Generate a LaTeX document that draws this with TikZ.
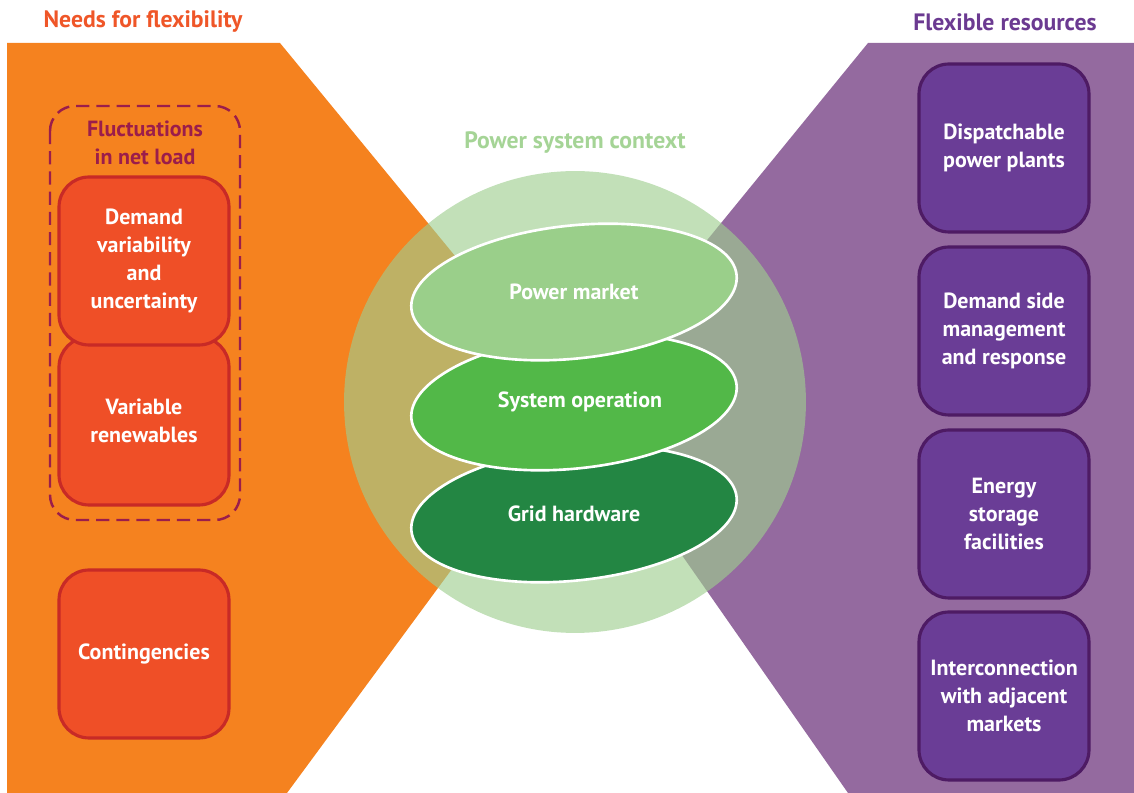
\documentclass[tikz,border=0pt]{standalone}
\usepackage{fontspec}
\setmainfont{PT Sans}
\usetikzlibrary{shapes.geometric}

\definecolor{needbg}{RGB}{245,130,31}
\definecolor{needfill}{RGB}{239,79,39}
\definecolor{neededge}{RGB}{200,42,38}
\definecolor{needtitle}{RGB}{239,86,40}
\definecolor{flucline}{RGB}{155,29,75}
\definecolor{resbg}{RGB}{148,106,159}
\definecolor{resfill}{RGB}{106,61,150}
\definecolor{resedge}{RGB}{78,27,100}
\definecolor{restitle}{RGB}{107,58,145}
\definecolor{ctxgreen}{RGB}{158,206,143}
\definecolor{ctxtitle}{RGB}{165,212,150}
\definecolor{marketgreen}{RGB}{154,207,138}
\definecolor{opgreen}{RGB}{82,184,72}
\definecolor{gridgreen}{RGB}{35,134,67}

\begin{document}
\begin{tikzpicture}[x=0.02cm, y=-0.02cm,
  title/.style={font=\bfseries\fontsize{13.5}{16}\selectfont},
  boxtext/.style={text=white, align=center, font=\bfseries\fontsize{12.5}{15.9}\selectfont},
  needbox/.style={boxtext, draw=neededge, fill=needfill, line width=1.8pt, rounded corners=0.6cm,
    minimum width=3.4cm, minimum height=3.36cm},
  resbox/.style={boxtext, draw=resedge, fill=resfill, line width=1.8pt, rounded corners=0.6cm,
    minimum width=3.4cm, minimum height=3.36cm},
  layer/.style={draw=white, line width=1.5pt}]
  \useasboundingbox (0,0) rectangle (1134,793);
  % centre of the power system circle
  \coordinate (C) at (575,402);
  % backgrounds
  \fill[needbg] (7,43) -- (280,43) -- (C) -- (287,793) -- (7,793) -- cycle;
  \fill[resbg] (868,43) -- (1134,43) -- (1134,793) -- (848,793) -- (C) -- cycle;
  \fill[ctxgreen, opacity=0.63] (C) circle [radius=4.62cm];
  % titles
  \node[title, text=needtitle] (needs) at (143,21) {Needs for flexibility};
  \node[title, text=restitle] (res) at (1005,22) {Flexible resources};
  \node[title, text=ctxtitle] (ctx) at (575,143) {Power system context};
  % needs for flexibility
  \draw[flucline, line width=1.4pt, dash pattern=on 7.5pt off 4pt, rounded corners=0.5cm]
    (50,106) rectangle (240,520);
  \node[text=flucline, align=center, font=\bfseries\fontsize{12.5}{15.9}\selectfont] (fluc) at (145,143)
    {Fluctuations\\in net load};
  \node[needbox] (renew) at (144,421) {Variable\\renewables};
  \node[needbox] (demand) at (144,261) {Demand\\variability\\and\\uncertainty};
  \node[needbox] (cont) at (144,654) {Contingencies};
  % power system layers
  \node (grid) at (574,514) {};
  \node (op) at (574,402) {};
  \node (market) at (574,292) {};
  \filldraw[layer, fill=gridgreen, rotate around={6:(grid)}] (grid) ellipse [x radius=3.27cm, y radius=1.33cm];
  \filldraw[layer, fill=opgreen, rotate around={6:(op)}] (op) ellipse [x radius=3.27cm, y radius=1.33cm];
  \filldraw[layer, fill=marketgreen, rotate around={6:(market)}] (market) ellipse [x radius=3.27cm, y radius=1.33cm];
  \node[boxtext] at (grid) {Grid hardware};
  \node[boxtext] at (580,402) {System operation};
  \node[boxtext] at (market) {Power market};
  % flexible resources
  \node[resbox] (plants) at (1004,148) {Dispatchable\\power plants};
  \node[resbox] (dsm) at (1004,331) {Demand side\\management\\and response};
  \node[resbox] (storage) at (1004,514) {Energy\\storage\\facilities};
  \node[resbox] (inter) at (1004,696) {Interconnection\\with adjacent\\markets};
\end{tikzpicture}
\end{document}
